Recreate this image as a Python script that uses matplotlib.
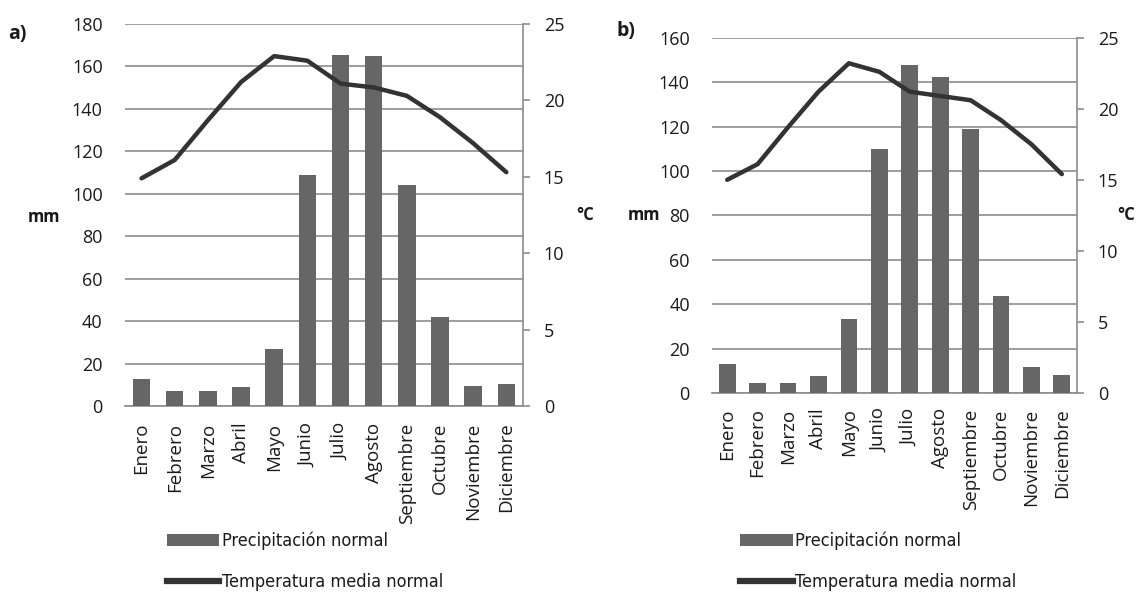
import matplotlib.pyplot as plt
from matplotlib.patches import Patch
from matplotlib.lines import Line2D
import numpy as np

meses = ["Enero", "Febrero", "Marzo", "Abril", "Mayo", "Junio", "Julio",
         "Agosto", "Septiembre", "Octubre", "Noviembre", "Diciembre"]

# a)
precip_a = [12.5, 7.0, 7.2, 8.8, 27.0, 109.0, 165.5, 165.0, 104.0, 41.8, 9.3, 10.2]
temp_a = [14.9, 16.1, 18.7, 21.2, 22.9, 22.6, 21.1, 20.85, 20.3, 18.9, 17.2, 15.3]

# b)
precip_b = [13.0, 4.5, 4.5, 7.8, 33.4, 110.0, 147.5, 142.1, 118.8, 43.9, 11.8, 8.2]
temp_b = [15.0, 16.1, 18.7, 21.2, 23.2, 22.6, 21.2, 20.9, 20.6, 19.2, 17.5, 15.4]

BAR = "#666666"
LINE = "#333333"
GRID = "#8c8c8c"
TXT = "#1a1a1a"
num_font = ["Open Sans", "DejaVu Sans"]

fig = plt.figure(figsize=(11.39, 5.99), dpi=100)


def panel(rect, precip, temp, ymax, width, xpad):
    ax = fig.add_axes(rect)
    x = np.arange(len(meses))
    ax.bar(x, precip, width=width, color=BAR, zorder=3)
    ax.set_xlim(-0.5, len(meses) - 0.5)
    ax.set_ylim(0, ymax)
    ax.set_yticks(np.arange(0, ymax + 1, 20))
    ax.yaxis.grid(True, color=GRID, lw=1.2, zorder=0)
    ax.set_axisbelow(True)
    for s in ["left", "top", "right"]:
        ax.spines[s].set_visible(False)
    ax.spines["bottom"].set_color(GRID)
    ax.spines["bottom"].set_linewidth(1.2)
    ax.tick_params(axis="y", length=0, pad=16, labelsize=13, labelcolor=TXT)
    ax.set_xticks(x)
    ax.set_xticklabels(meses, rotation=90, fontsize=13.5, color=TXT)
    ax.tick_params(axis="x", length=0, pad=xpad)
    for lab in ax.get_yticklabels() + ax.get_xticklabels():
        lab.set_family(num_font)

    ax2 = ax.twinx()
    ax2.plot(x, temp, color=LINE, lw=3.2, zorder=4, solid_capstyle="round")
    ax2.set_ylim(0, 25)
    ax2.set_yticks([0, 5, 10, 15, 20, 25])
    for s in ["left", "top", "bottom"]:
        ax2.spines[s].set_visible(False)
    ax2.spines["right"].set_color(GRID)
    ax2.spines["right"].set_linewidth(1.2)
    ax2.tick_params(axis="y", length=5, width=1.2, color=GRID, pad=10,
                    labelsize=13, labelcolor=TXT)
    for lab in ax2.get_yticklabels():
        lab.set_family(num_font)
    return ax


axa = panel([0.1097, 0.3222, 0.3494, 0.6377], precip_a, temp_a, 180, 0.53, 12)
axb = panel([0.6251, 0.3439, 0.3205, 0.5932], precip_b, temp_b, 160, 0.55, 11)

lbl = dict(fontsize=12, fontweight="bold", color=TXT, family=num_font, va="center")
fig.text(0.007, 0.943, "a)", **dict(lbl, fontsize=14))
fig.text(0.541, 0.948, "b)", **dict(lbl, fontsize=14))
fig.text(0.024, 0.638, "mm", **lbl)
fig.text(0.506, 0.641, "°C", **lbl)
fig.text(0.551, 0.641, "mm", **lbl)
fig.text(0.981, 0.641, "°C", **lbl)

handles = [Patch(facecolor=BAR, edgecolor="none"), Line2D([], [], color=LINE, lw=4.5)]
labels = ["Precipitación normal", "Temperatura media normal"]
for x0 in (0.1466, 0.650):
    leg = fig.legend(handles, labels, loc="upper left", bbox_to_anchor=(x0, 0.112),
                     bbox_transform=fig.transFigure, frameon=False,
                     handlelength=2.9, handleheight=0.67, handletextpad=0.15,
                     labelspacing=1.25, borderpad=0, borderaxespad=0,
                     prop={"family": "DejaVu Sans", "stretch": "condensed", "size": 13})
    for t in leg.get_texts():
        t.set_color(TXT)

fig.savefig("out.png", dpi=100)
